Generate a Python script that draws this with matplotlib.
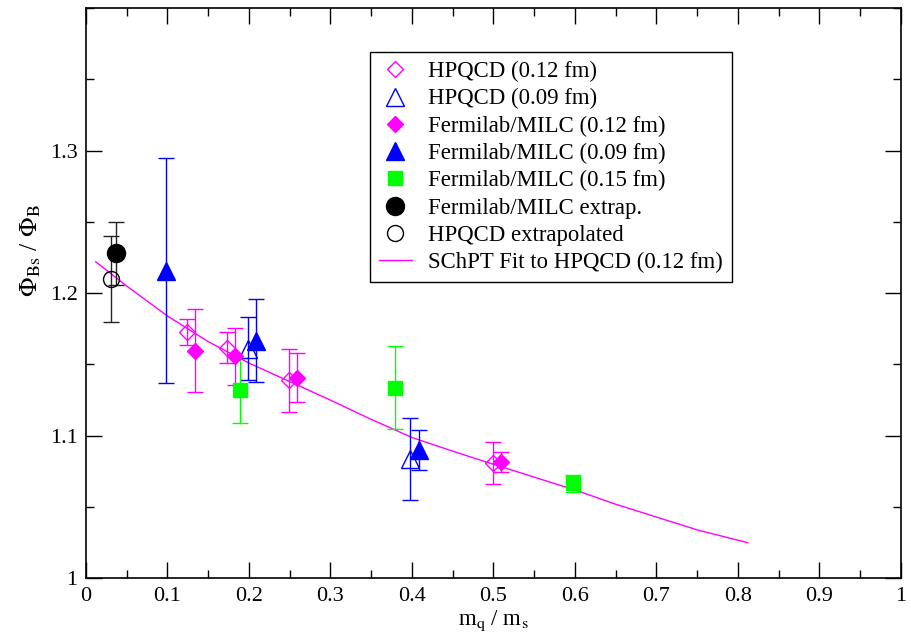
import numpy as np
import matplotlib
matplotlib.use("Agg")
import matplotlib.pyplot as plt
from matplotlib.ticker import MultipleLocator, FormatStrFormatter

plt.rcParams['font.family'] = ['Liberation Serif', 'DejaVu Serif']
plt.rcParams['mathtext.fontset'] = 'stix'

# HPQCD (0.12 fm), open diamonds
hp12_x = [0.124, 0.173, 0.249, 0.499]
hp12_y = [1.1726, 1.1619, 1.1388, 1.0809]
hp12_err = [0.009, 0.011, 0.022, 0.015]

# HPQCD (0.09 fm), open triangles
hp09_x = [0.199, 0.398]
hp09_y = [1.161, 1.0838]
hp09_err = [0.022, 0.029]

# Fermilab/MILC (0.12 fm), filled diamonds
fm12_x = [0.134, 0.183, 0.259, 0.509]
fm12_y = [1.1597, 1.1557, 1.1408, 1.0818]
fm12_err = [0.029, 0.020, 0.017, 0.007]

# Fermilab/MILC (0.09 fm), filled triangles
fm09_x = [0.098, 0.209, 0.409]
fm09_y = [1.2159, 1.1668, 1.090]
fm09_err = [0.079, 0.029, 0.014]

# Fermilab/MILC (0.15 fm), squares
fm15_x = [0.189, 0.379, 0.598]
fm15_y = [1.1319, 1.1338, 1.0667]
fm15_err = [0.023, 0.029, 0.006]

# extrapolated values
fmext_x = [0.0368]
fmext_y = [1.228]
fmext_err = [0.022]
hpext_x = [0.0307]
hpext_y = [1.2098]
hpext_err = [0.030]

# SChPT fit curve
fit_x = [0.012, 0.05, 0.1, 0.15, 0.2, 0.25, 0.3, 0.35, 0.4, 0.45, 0.5,
         0.55, 0.6, 0.65, 0.7, 0.75, 0.812]
fit_y = [1.222, 1.205, 1.184, 1.166, 1.151, 1.138, 1.125, 1.1115, 1.0988,
         1.0892, 1.080, 1.071, 1.062, 1.052, 1.043, 1.034, 1.025]

magenta = '#ff00ff'
blue = '#0000ff'
green = '#00ff00'

fig = plt.figure(figsize=(9.11, 6.41), dpi=100)
ax = fig.add_axes([0.0944, 0.0977, 0.8946, 0.8898])

eb = dict(ls='none', capsize=6, elinewidth=1.0, capthick=1.0)

ax.plot(fit_x, fit_y, color=magenta, lw=1.0, zorder=2)

ax.errorbar(hpext_x, hpext_y, yerr=hpext_err, color='#222222', **eb, zorder=3)
ax.errorbar(fmext_x, fmext_y, yerr=fmext_err, color='#222222', **eb, zorder=3)
ax.errorbar(hp12_x, hp12_y, yerr=hp12_err, color=magenta, **eb, zorder=3)
ax.errorbar(fm12_x, fm12_y, yerr=fm12_err, color=magenta, **eb, zorder=3)
ax.errorbar(hp09_x, hp09_y, yerr=hp09_err, color=blue, **eb, zorder=3)
ax.errorbar(fm09_x, fm09_y, yerr=fm09_err, color=blue, **eb, zorder=3)
ax.errorbar(fm15_x, fm15_y, yerr=fm15_err, color=green, **eb, zorder=3)

h1, = ax.plot(hp12_x, hp12_y, 'D', ms=8.5, mfc='none', mec=magenta, mew=1.0,
              ls='none', zorder=4, label='HPQCD (0.12 fm)')
h2, = ax.plot(hp09_x, hp09_y, '^', ms=12.5, mfc='none', mec=blue, mew=1.0,
              ls='none', zorder=4, label='HPQCD (0.09 fm)')
h3, = ax.plot(fm12_x, fm12_y, 'D', ms=8.5, color=magenta, ls='none',
              zorder=4, label='Fermilab/MILC (0.12 fm)')
h4, = ax.plot(fm09_x, fm09_y, '^', ms=12.5, color=blue, ls='none',
              zorder=4, label='Fermilab/MILC (0.09 fm)')
h5, = ax.plot(fm15_x, fm15_y, 's', ms=10.5, color=green, ls='none',
              zorder=4, label='Fermilab/MILC (0.15 fm)')
h6, = ax.plot(fmext_x, fmext_y, 'o', ms=13, color='black', ls='none',
              zorder=4, label='Fermilab/MILC extrap.')
h7, = ax.plot(hpext_x, hpext_y, 'o', ms=11.5, mfc='none', mec='black', mew=1.0,
              ls='none', zorder=4, label='HPQCD extrapolated')
h8, = ax.plot([], [], color=magenta, lw=1.0, label='SChPT Fit to HPQCD (0.12 fm)')

ax.set_xlim(0, 1)
ax.set_ylim(1, 1.4)
ax.set_xticks(np.arange(0, 1.01, 0.1))
ax.set_yticks([1.0, 1.1, 1.2, 1.3])
ax.xaxis.set_minor_locator(MultipleLocator(0.05))
ax.yaxis.set_minor_locator(MultipleLocator(0.05))
ax.xaxis.set_major_formatter(FormatStrFormatter('%g'))
ax.yaxis.set_major_formatter(FormatStrFormatter('%g'))
ax.tick_params(which='both', direction='in', top=True, right=True,
               labelsize=16, width=1.0)
ax.tick_params(which='major', length=11.5, pad=6)
ax.tick_params(which='minor', length=5.8)
for s in ax.spines.values():
    s.set_linewidth(1.2)

ax.set_xlabel(r'm$_\mathrm{q}$ / m$_\mathrm{s}$', fontsize=16.5, labelpad=2)
ax.set_ylabel(r'$\Phi_{\mathrm{Bs}}$ / $\Phi_{\mathrm{B}}$', fontsize=18.5)
ax.yaxis.set_label_coords(-0.053, 0.574)

leg = ax.legend(handles=[h1, h2, h3, h4, h5, h6, h7, h8],
                loc='upper left', bbox_to_anchor=(0.348, 0.923),
                borderaxespad=0, fontsize=16.4, frameon=True, fancybox=False,
                edgecolor='black', framealpha=1, handlelength=1.45,
                handletextpad=0.7, borderpad=0.4, labelspacing=0.27,
                numpoints=1)
leg.get_frame().set_linewidth(1.0)

fig.savefig('out.png', dpi=100)
